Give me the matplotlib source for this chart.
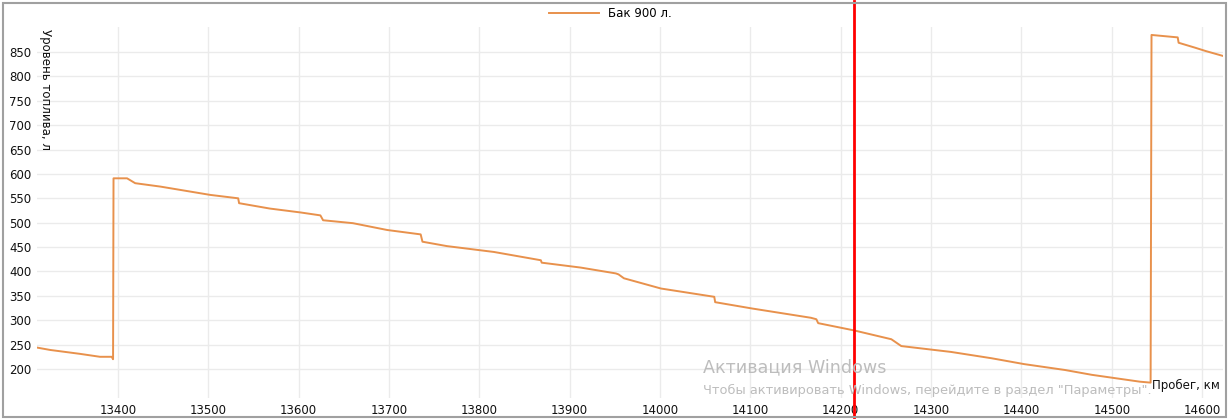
import matplotlib
matplotlib.use("Agg")
import matplotlib.pyplot as plt
from matplotlib.patches import Rectangle

# mileage (km) and fuel level (l)
mileage = [13310, 13325, 13358, 13380, 13393, 13394.5, 13395, 13410, 13419, 13447,
           13502, 13533, 13534, 13568, 13602, 13624, 13627, 13660, 13698, 13735,
           13737, 13764, 13816, 13868, 13869, 13912, 13951, 13954, 13960, 14001,
           14060, 14061, 14102, 14167, 14173, 14175, 14215, 14256, 14267, 14322,
           14367, 14403, 14448, 14478, 14531, 14543, 14544, 14573, 14574, 14592,
           14604, 14623]
fuel = [244, 239, 231, 225, 225, 220, 591, 591, 581, 574,
        557, 550, 540, 529, 521, 515, 505, 499, 485, 476,
        461, 452, 440, 423, 418, 408, 396, 394, 386, 365,
        348, 337, 324, 305, 302, 294, 279, 261, 247, 235,
        222, 210, 198, 188, 174, 172, 885, 880, 869, 859,
        852, 842]

marker_km = 14215
x_ticks = list(range(13400, 14601, 100))
y_ticks = list(range(200, 851, 50))

W, H = 1229, 419
fig = plt.figure(figsize=(W / 100, H / 100), dpi=100)
ax = fig.add_axes([37 / W, 1 - 398 / H, (1222.7 - 37) / W, (398 - 27) / H])

ax.plot(mileage, fuel, color="#e8914c", lw=1.4, label="Бак 900 л.", zorder=3)
# the cursor line runs over the whole window height
ax.axvline(marker_km, ymin=-0.05, ymax=1.07, color="#ff0000", lw=2,
           zorder=4, clip_on=False)

ax.set_xlim(13310.3, 14622.8)
ax.set_ylim(140.5, 901.3)
ax.set_xticks(x_ticks)
ax.set_yticks(y_ticks)
ax.tick_params(length=0, labelsize=8.5, colors="#111111", pad=4)
ax.grid(color="#ebebeb", lw=1)
ax.set_axisbelow(True)
for s in ax.spines.values():
    s.set_visible(False)

fig.legend(loc="upper center", bbox_to_anchor=(0.497, 1.0), frameon=False,
           fontsize=8.5, handlelength=4.2, borderaxespad=0.2)

fig.text(45 / W, 1 - 29 / H, "Уровень топлива, л", rotation=270,
         ha="center", va="top", fontsize=8.5, color="#111111")
fig.text(1220 / W, 1 - 385 / H, "Пробег, км", ha="right", va="center",
         fontsize=8.5, color="#111111")

# windows activation watermark on the screenshot
fig.text(703 / W, 1 - 367 / H, "Активация Windows", ha="left", va="center",
         fontsize=12.6, color="#bdbdbd", zorder=10)
fig.text(703 / W, 1 - 390 / H,
         "Чтобы активировать Windows, перейдите в раздел \"Параметры\".",
         ha="left", va="center", fontsize=9.4, color="#bdbdbd", zorder=10)

# window frame
fig.patches.append(Rectangle((3 / W, 2 / H), (W - 6) / W, (H - 5) / H,
                             transform=fig.transFigure, fill=False,
                             edgecolor="#a0a0a0", lw=1.5))

fig.savefig("out.png", dpi=100)
